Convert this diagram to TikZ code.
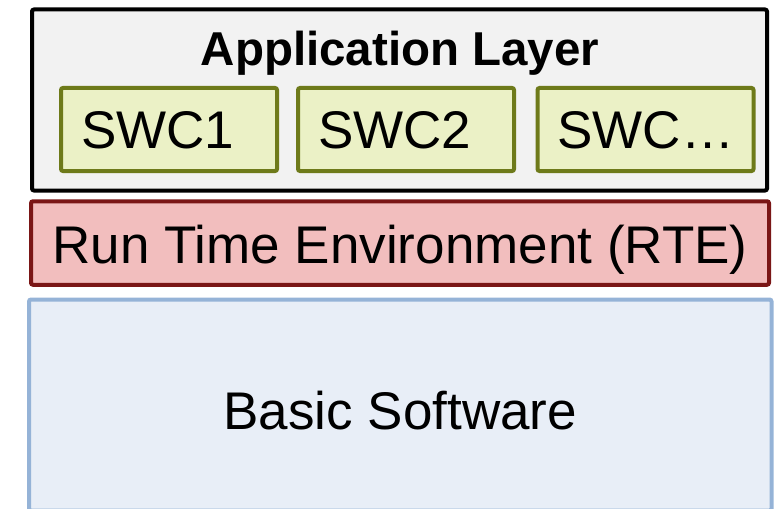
\documentclass[tikz,border=0pt]{standalone}
\usepackage{fontspec}
\setmainfont{Liberation Sans}
\usetikzlibrary{positioning}
\definecolor{appgray}{HTML}{F2F2F2}
\definecolor{swcpale}{HTML}{EBF1C6}
\definecolor{swcolive}{HTML}{6E7A1A}
\definecolor{rtepink}{HTML}{F2BEBE}
\definecolor{rtered}{HTML}{7A1616}
\definecolor{bswpale}{HTML}{E8EEF7}
\definecolor{bswblue}{HTML}{95B3D7}

\begin{document}
\begin{tikzpicture}[x=1pt, y=-1pt, every node/.style={font=\fontsize{53}{62}\selectfont, inner sep=0pt}, layer/.style={line width=4pt, rounded corners=2pt}, swc/.style={layer, draw=swcolive, fill=swcpale, minimum width=216pt, minimum height=83pt, text width=176pt, align=left, text height=38pt, text depth=0pt}]
\useasboundingbox (0,0) rectangle (783,508);
% layers, top to bottom
\node[layer, draw=black, fill=appgray, minimum width=735pt, minimum height=181pt] (app) at (399.5,100) {};
\node[anchor=base, font=\fontsize{47.5}{56}\selectfont\bfseries] (apptitle) at (400,66) {Application Layer};
\node[swc] (swc1) at (169,129.5) {SWC1};
\node[swc] (swc2) at (406,129.5) {SWC2};
\node[swc] (swcn) at (645.5,129.5) {SWC…};
\node[layer, draw=rtered, fill=rtepink, minimum width=738pt, minimum height=83.5pt, text height=40pt, text depth=0pt] (rte) at (400,243) {Run Time Environment (RTE)};
\node[layer, draw=bswblue, fill=bswpale, minimum width=742.5pt, minimum height=211pt, text height=48pt, text depth=0pt] (bsw) at (400.25,405) {Basic Software};
\end{tikzpicture}
\end{document}
